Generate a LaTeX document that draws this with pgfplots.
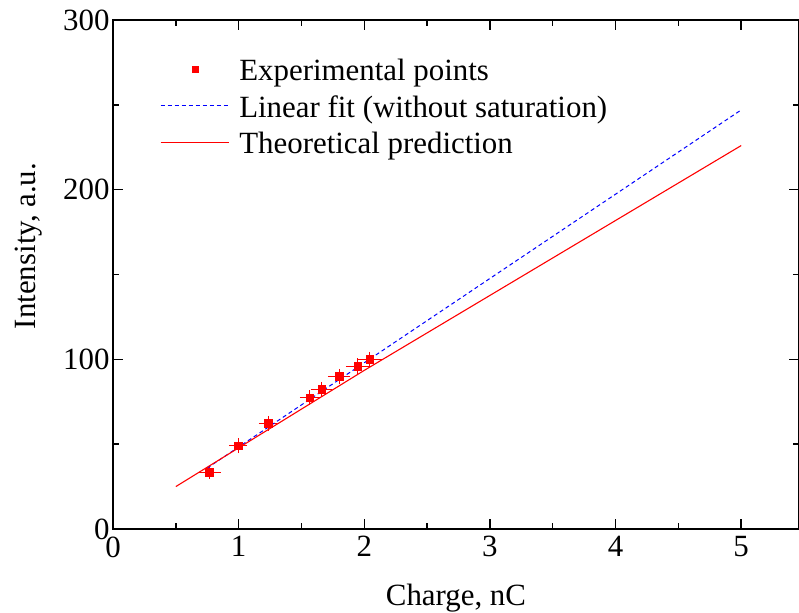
\documentclass[border=0pt]{standalone}
\usepackage{fontspec}
\setmainfont{Liberation Serif}
\usepackage{pgfplots}
\pgfplotsset{compat=1.18}
\newcommand\bigf{\fontsize{31}{37}\selectfont}
\pgfplotsset{
  linelegend/.style={legend image code/.code={\draw[##1] (0bp,4bp) -- (68bp,4bp);}},
  markleg/.style={legend image code/.code={\draw[##1] plot coordinates {(34bp,4bp)};}},
}
\begin{document}
\begin{tikzpicture}
\begin{axis}[
  scale only axis,
  width=686bp, height=509bp,
  xmin=0, xmax=5.46, ymin=0, ymax=300,
  xtick={0,1,2,3,4,5}, minor x tick num=1,
  ytick={0,100,200,300}, minor y tick num=1,
  tick pos=both, tick align=inside,
  major tick length=10bp, minor tick length=6bp,
  every tick/.style={black, line width=1.5bp},
  axis line style={line width=2bp},
  /pgf/number format/assume math mode=true,
  tick label style={font=\bigf},
  xticklabel style={yshift=-4bp},
  label style={font=\bigf},
  xlabel={Charge, nC},
  ylabel={Intensity, a.u.},
  xlabel style={at={(axis description cs:0.5,0)}, anchor=base, yshift=-76bp},
  ylabel style={at={(axis description cs:-0.1137,0.556)}, anchor=base},
  legend cell align=left,
  legend style={draw=none, fill=none, font=\bigf,
    at={(rel axis cs:0.0685,0.926)}, anchor=north west,
    inner sep=0pt, row sep=5.5bp,
    nodes={inner sep=0pt, text height=23bp, text depth=8bp},
    /tikz/every odd column/.append style={column sep=10bp}},
]
\addplot[only marks, mark=square*, mark size=3.8bp, red, mark options={draw=red, fill=red}, forget plot,
  error bars/.cd, x dir=both, x explicit, y dir=both, y explicit,
  error bar style={red, line width=1bp}, error mark options={red, mark size=4bp, line width=1bp}]
  table[x=x, y=y, x error=ex, y error=ey] {
x     y     ex    ey
0.766 33.4  0.060 1.5
0.996 49.1  0.040 2.0
1.235 62.3  0.042 2.0
1.567 77.4  0.048 2.0
1.660 82.3  0.053 2.0
1.800 90.0  0.057 2.0
1.946 96.0  0.060 2.2
2.044 100.0 0.062 2.0
};
\addlegendimage{only marks, mark=square*, mark size=3bp, red, markleg}
\addlegendentry{Experimental points}
\addplot[blue, line width=1bp, dash pattern=on 4bp off 3bp, forget plot] coordinates {(0.75,35.9) (5,247)};
\addlegendimage{blue, line width=1bp, dash pattern=on 4bp off 3bp, linelegend}
\addlegendentry{Linear fit (without saturation)}
\addplot[red, line width=1.1bp, forget plot] coordinates {(0.5,25) (2.0,93.5) (5,226)};
\addlegendimage{red, line width=1.1bp, linelegend}
\addlegendentry{Theoretical prediction}
\end{axis}
\pgfresetboundingbox
\path (-113bp,-84bp) rectangle (686bp,529bp);
\end{tikzpicture}
\end{document}
